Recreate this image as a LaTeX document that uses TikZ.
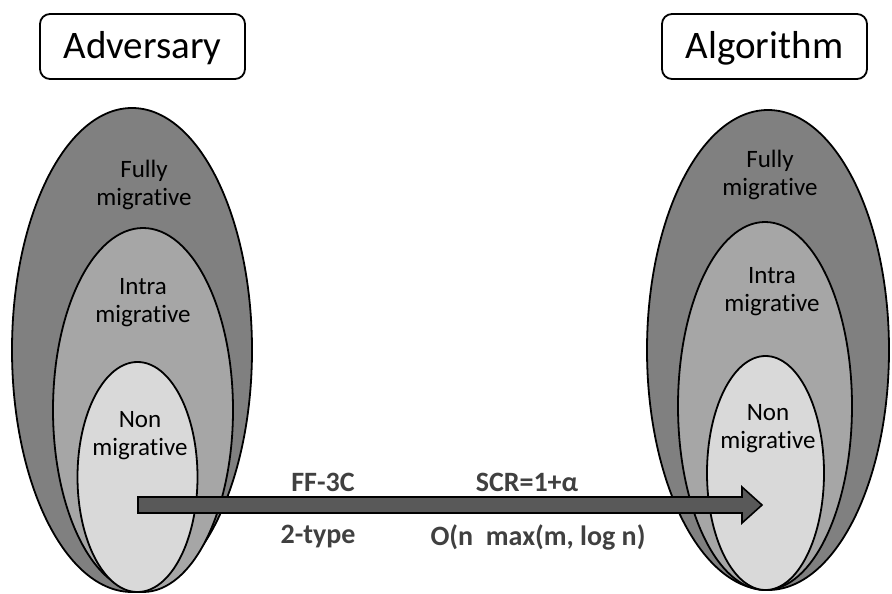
\documentclass[tikz,border=0pt]{standalone}
\usepackage{fontspec}
\setmainfont{Carlito}[Ligatures=NoCommon]
\usetikzlibrary{shapes.geometric,calc}
\definecolor{outerfill}{HTML}{808080}
\definecolor{midfill}{HTML}{A6A6A6}
\definecolor{innerfill}{HTML}{D9D9D9}
\definecolor{arrowfill}{HTML}{595959}
\definecolor{labelgray}{HTML}{404040}
\begin{document}
\begin{tikzpicture}[x=1pt,y=-1pt,
  ring/.style={ellipse, draw=black, line width=1.8pt, inner sep=0pt},
  titlebox/.style={draw=black, line width=1.8pt, rounded corners=10pt,
    minimum width=205pt, minimum height=65pt, inner sep=0pt,
    text height=25pt, text depth=0pt, font=\fontsize{39}{46}\selectfont},
  setlabel/.style={align=center, font=\fontsize{25}{28}\selectfont, inner sep=0pt},
  edgelabel/.style={font=\fontsize{28}{32}\selectfont\bfseries, text=labelgray, inner sep=0pt},
  arrowbody/.style={draw=black, line width=1.6pt, fill=arrowfill, line join=miter}]
\useasboundingbox (0,0) rectangle (892,594);

% headings
\node[titlebox] (adv) at (142.5,46.5) {Adversary};
\node[titlebox] (alg) at (764.5,46.5) {Algorithm};

% nested classes, adversary side
\node[ring, fill=outerfill, minimum width=240pt, minimum height=484pt] (advFull) at (132,350) {};
\node[ring, fill=midfill, minimum width=180pt, minimum height=364pt] (advIntra) at (143,410) {};
\node[ring, fill=innerfill, minimum width=120pt, minimum height=230pt] (advNon) at (137.5,477) {};
\node[setlabel] (advFullLbl) at (144,185) {Fully\\migrative};
\node[setlabel] (advIntraLbl) at (143,303) {Intra\\migrative};
\node[setlabel] (advNonLbl) at (140,436) {Non\\migrative};

% nested classes, algorithm side
\node[ring, fill=outerfill, minimum width=242pt, minimum height=480pt] (algFull) at (768,350) {};
\node[ring, fill=midfill, minimum width=174pt, minimum height=368pt] (algIntra) at (765,406) {};
\node[ring, fill=innerfill, minimum width=117pt, minimum height=234pt] (algNon) at (765.5,473) {};
\node[setlabel] (algFullLbl) at (770,175) {Fully\\migrative};
\node[setlabel] (algIntraLbl) at (772,292) {Intra\\migrative};
\node[setlabel] (algNonLbl) at (768,429) {Non\\migrative};

% block arrow between the two innermost classes
\coordinate (from) at (138,505);
\coordinate (to) at (762,505);
\draw[arrowbody] ($(from)+(0,-8)$) -- ($(to)+(-20,-8)$) -- ($(to)+(-20,-18)$)
  -- (to) -- ($(to)+(-20,18)$) -- ($(to)+(-20,8)$) -- ($(from)+(0,8)$) -- cycle;

% arrow annotations
\node[edgelabel] (ff) at (323,482) {FF-3C};
\node[edgelabel] (scr) at (527,482) {SCR=1+α};
\node[edgelabel] (two) at (318,537) {2-type};
\node[edgelabel] (cost) at (538,537) {O(n\ \ max(m, log n)};
\end{tikzpicture}
\end{document}
